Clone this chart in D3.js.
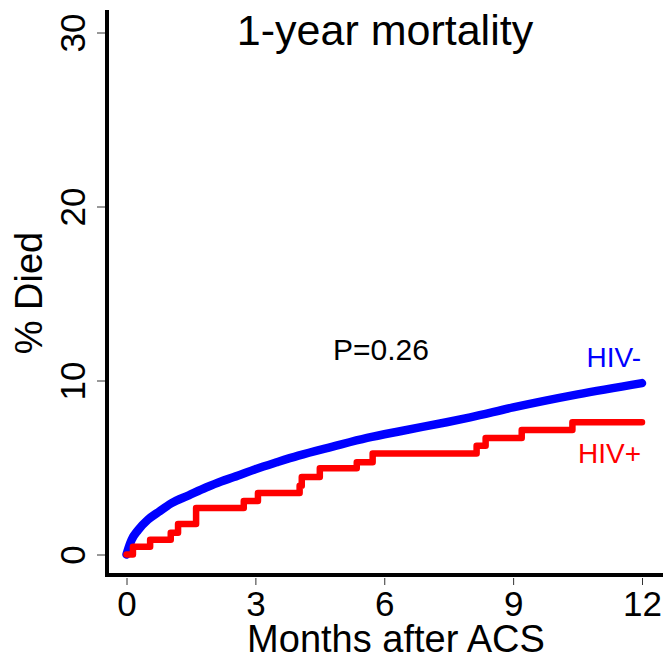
<!DOCTYPE html>
<html>
<head>
<meta charset="utf-8">
<script src="https://cdn.jsdelivr.net/npm/d3@7"></script>
<style>
  body { margin: 0; background: #fff; }
  svg { display: block; font-family: "Liberation Sans", Arial, sans-serif; }
</style>
</head>
<body>
<svg id="chart" width="664" height="657"></svg>
<script>
// values
var xTicks = [0, 3, 6, 9, 12];
var yTicks = [0, 10, 20, 30];

// HIV- (smooth cumulative curve)
var blueMonths = [0, 0.05, 0.12, 0.27, 0.5, 0.75, 1.05, 1.45, 1.85, 2.2, 2.5, 3, 3.5, 4, 4.8, 5.6, 6.4, 7.45, 8, 9, 10.5, 12];
var bluePct    = [0, 0.4, 0.85, 1.4, 2.0, 2.45, 2.95, 3.4, 3.85, 4.2, 4.45, 4.9, 5.3, 5.68, 6.2, 6.7, 7.1, 7.6, 7.88, 8.45, 9.2, 9.85];

// HIV+ (step curve)
var redMonths = [0, 0.15, 0.55, 1.03, 1.2, 1.62, 2.73, 3.06, 4.03, 4.08, 4.5, 5.36, 5.73, 8.15, 8.36, 9.2, 10.38, 12];
var redPct    = [0, 0.45, 0.85, 1.25, 1.75, 2.67, 3.07, 3.53, 3.95, 4.45, 4.95, 5.3, 5.8, 6.25, 6.7, 7.15, 7.6, 7.6];

var svg = d3.select("#chart");

var x = d3.scaleLinear().domain([0, 12]).range([126.5, 642]);
var y = d3.scaleLinear().domain([0, 30]).range([554.5, 32.5]);

var axisY0 = 575, axisX0 = 107;

// x axis
var gx = svg.append("g").attr("transform", "translate(0," + axisY0 + ")")
  .call(d3.axisBottom(x).tickValues(xTicks).tickSize(10).tickFormat(d3.format("d")));
gx.select(".domain").remove();
gx.selectAll(".tick line").attr("y1", 3).attr("stroke", "#333").attr("stroke-width", 1);
gx.selectAll(".tick text")
  .attr("y", 41).attr("dy", 0)
  .attr("font-size", 35).attr("font-family", "Liberation Sans, Arial, sans-serif")
  .attr("fill", "#000");

// y axis
var gy = svg.append("g").attr("transform", "translate(" + axisX0 + ",0)")
  .call(d3.axisLeft(y).tickValues(yTicks).tickSize(10).tickFormat(d3.format("d")));
gy.select(".domain").remove();
gy.selectAll(".tick line").attr("x1", -2).attr("stroke", "#333").attr("stroke-width", 1);
gy.selectAll(".tick text")
  .attr("x", 0).attr("dy", 0)
  .attr("text-anchor", "middle")
  .attr("transform", "translate(-22,0) rotate(-90)")
  .attr("font-size", 35).attr("font-family", "Liberation Sans, Arial, sans-serif")
  .attr("fill", "#000");

// thick axis lines
svg.append("line")
  .attr("x1", axisX0 - 2).attr("x2", 663)
  .attr("y1", axisY0).attr("y2", axisY0)
  .attr("stroke", "#000").attr("stroke-width", 4);
svg.append("line")
  .attr("x1", axisX0).attr("x2", axisX0)
  .attr("y1", 10).attr("y2", axisY0 + 2)
  .attr("stroke", "#000").attr("stroke-width", 4);

// curves
var blueData = blueMonths.map(function(m, i){ return [m, bluePct[i]]; });
var redData = redMonths.map(function(m, i){ return [m, redPct[i]]; });

var smooth = d3.line()
  .x(function(d){ return x(d[0]); })
  .y(function(d){ return y(d[1]); })
  .curve(d3.curveMonotoneX);
var steps = d3.line()
  .x(function(d){ return x(d[0]); })
  .y(function(d){ return y(d[1]); })
  .curve(d3.curveStepAfter);

svg.append("path").datum(blueData)
  .attr("d", smooth)
  .attr("fill", "none").attr("stroke", "#0000FF")
  .attr("stroke-width", 8.5).attr("stroke-linecap", "round").attr("stroke-linejoin", "round");

svg.append("path").datum(redData)
  .attr("d", steps)
  .attr("fill", "none").attr("stroke", "#FF0000")
  .attr("stroke-width", 6.5).attr("stroke-linecap", "round").attr("stroke-linejoin", "round");

// texts
svg.append("text").attr("x", 385).attr("y", 45)
  .attr("text-anchor", "middle").attr("font-size", 43).attr("fill", "#000")
  .text("1-year mortality");

svg.append("text").attr("x", 381).attr("y", 360)
  .attr("text-anchor", "middle").attr("font-size", 30).attr("fill", "#000")
  .text("P=0.26");

svg.append("text").attr("x", 641).attr("y", 367)
  .attr("text-anchor", "end").attr("font-size", 28).attr("fill", "#0000FF")
  .text("HIV-");

svg.append("text").attr("x", 641).attr("y", 463)
  .attr("text-anchor", "end").attr("font-size", 28).attr("fill", "#FF0000")
  .text("HIV+");

svg.append("text").attr("x", 396).attr("y", 652)
  .attr("text-anchor", "middle").attr("font-size", 38).attr("fill", "#000")
  .text("Months after ACS");

svg.append("text")
  .attr("transform", "translate(42,293) rotate(-90)")
  .attr("text-anchor", "middle").attr("font-size", 38).attr("fill", "#000")
  .text("% Died");
</script>
</body>
</html>
